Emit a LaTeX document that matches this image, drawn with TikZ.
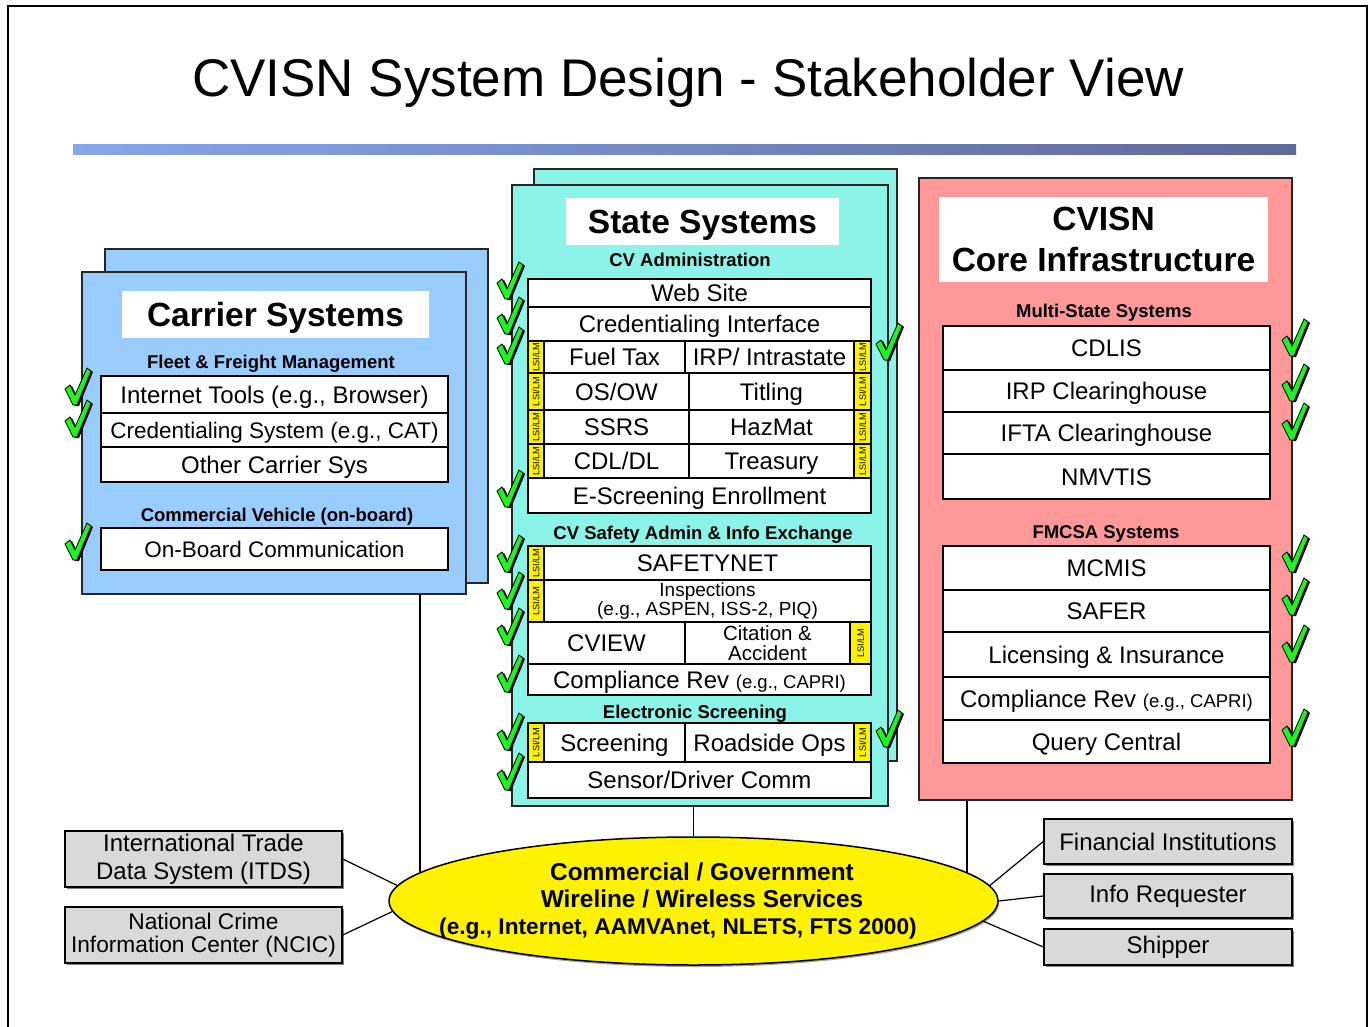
\documentclass[tikz,border=0pt]{standalone}
\usepackage{fontspec}
\setmainfont{Liberation Sans}
\usetikzlibrary{shapes.geometric,shadows}

\definecolor{carrierblue}{RGB}{153,204,255}
\definecolor{stateaqua}{RGB}{140,243,232}
\definecolor{corepink}{RGB}{255,153,153}
\definecolor{extgray}{RGB}{217,217,217}
\definecolor{ckgreen}{RGB}{30,245,30}
\definecolor{barleft}{RGB}{135,165,235}
\definecolor{barright}{RGB}{95,105,150}

\begin{document}
\begin{tikzpicture}[x=1pt,y=-1pt,
  panel/.style={draw=black!85, line width=1.5, inner sep=0},
  ttlbox/.style={fill=white, inner sep=0, align=center, font=\bfseries\fontsize{33.5}{41}\selectfont},
  subhead/.style={text height=13.5pt, text depth=0pt, font=\bfseries\fontsize{18.5}{20}\selectfont},
  sysbox/.style={draw, fill=white, line width=1.5, inner sep=0, text height=17pt, text depth=0pt, font=\fontsize{24}{26}\selectfont},
  sysbox2/.style={draw, fill=white, line width=1.5, inner sep=0, align=center},
  lsi/.style={draw, fill=yellow, line width=1.2, inner sep=0, font=\fontsize{9.2}{10}\selectfont},
  extbox/.style={draw, fill=extgray, line width=1.5, inner sep=0, align=center, drop shadow={shadow xshift=1.5pt, shadow yshift=-1.5pt, fill=black!70, opacity=.7}},
  link/.style={line width=1.2},
  chk/.pic={
    \fill[black] (2,22) -- (7,18) -- (12,28) -- (24,1) -- (28,4) -- (14,38) -- (10,38) -- cycle;
    \filldraw[fill=ckgreen, draw=black, line width=.8] (0,21) -- (5,17) -- (10,27) -- (22,0) -- (26,3) -- (12,37) -- (8,37) -- cycle;
  }]
\useasboundingbox (0,0) rectangle (1370,1027);
% Cadre et titre
\draw[line width=1.5] (8,1027) -- (8,6) -- (1367,6) -- (1367,1027);
\node[anchor=base, font=\fontsize{53}{60}\selectfont] (title) at (688,97) {CVISN System Design - Stakeholder View};
\shade[left color=barleft, right color=barright] (73,145) rectangle (1296,155);

% Carrier Systems
\node[panel, fill=carrierblue, minimum width=383, minimum height=334] (carrierback) at (296.5,416) {};
\node[panel, fill=carrierblue, minimum width=384, minimum height=322] (carrier) at (274,433) {};
\node[ttlbox, text depth=0pt, minimum width=307, minimum height=47] (carrierttl) at (275.5,314.5) {Carrier Systems};
\node[subhead] (fleet) at (271,362) {Fleet \& Freight Management};
\node[sysbox, minimum width=347, minimum height=37] (inet) at (274.5,394.5) {Internet Tools (e.g., Browser)};
\node[sysbox, minimum width=347, minimum height=34, font=\fontsize{22.5}{24}\selectfont, text height=16pt] (credsys) at (274.5,430) {Credentialing System (e.g., CAT)};
\node[sysbox, minimum width=347, minimum height=35] (other) at (274.5,464.5) {Other Carrier Sys};
\node[subhead] (cveh) at (277,515) {Commercial Vehicle (on-board)};
\node[sysbox, minimum width=347, minimum height=42, font=\fontsize{22.5}{24}\selectfont, text height=16pt] (onboard) at (274.5,549) {On-Board Communication};
\pic at (65,368) {chk};
\pic at (65,400) {chk};
\pic at (65,523) {chk};

% State Systems
\node[panel, fill=stateaqua, minimum width=363, minimum height=592] (stateback) at (715.5,465) {};
\node[panel, fill=stateaqua, minimum width=376, minimum height=621] (state) at (700,495.5) {};
\node[ttlbox, text depth=0pt, minimum width=273, minimum height=47] (statettl) at (702.5,221.5) {State Systems};
\node[subhead] (cvadmin) at (690,260) {CV Administration};
\node[sysbox, minimum width=343, minimum height=28] (web) at (699.5,293) {Web Site};
\node[sysbox, minimum width=343, minimum height=34] (credif) at (699.5,324) {Credentialing Interface};
\node[lsi, minimum width=16, minimum height=32] (fuellsi) at (536,357) {\rotatebox{90}{LSI/LM}};
\node[sysbox, minimum width=141, minimum height=32] (fuel) at (614.5,357) {Fuel Tax};
\node[sysbox, minimum width=169, minimum height=32] (irp) at (769.5,357) {IRP/ Intrastate};
\node[lsi, minimum width=17, minimum height=32] (irplsi) at (862.5,357) {\rotatebox{90}{LSI/LM}};
\node[lsi, minimum width=16, minimum height=37] (osowlsi) at (536,391.5) {\rotatebox{90}{LSI/LM}};
\node[sysbox, minimum width=145, minimum height=37] (osow) at (616.5,391.5) {OS/OW};
\node[sysbox, minimum width=165, minimum height=37] (titling) at (771.5,391.5) {Titling};
\node[lsi, minimum width=17, minimum height=37] (titlsi) at (862.5,391.5) {\rotatebox{90}{LSI/LM}};
\node[lsi, minimum width=16, minimum height=34] (ssrslsi) at (536,427) {\rotatebox{90}{LSI/LM}};
\node[sysbox, minimum width=145, minimum height=34] (ssrs) at (616.5,427) {SSRS};
\node[sysbox, minimum width=165, minimum height=34] (hazmat) at (771.5,427) {HazMat};
\node[lsi, minimum width=17, minimum height=34] (hazlsi) at (862.5,427) {\rotatebox{90}{LSI/LM}};
\node[lsi, minimum width=16, minimum height=34] (cdllsi) at (536,461) {\rotatebox{90}{LSI/LM}};
\node[sysbox, minimum width=145, minimum height=34] (cdl) at (616.5,461) {CDL/DL};
\node[sysbox, minimum width=165, minimum height=34] (treasury) at (771.5,461) {Treasury};
\node[lsi, minimum width=17, minimum height=34] (trelsi) at (862.5,461) {\rotatebox{90}{LSI/LM}};
\node[sysbox, minimum width=343, minimum height=35] (escreen) at (699.5,495.5) {E-Screening Enrollment};
\node[subhead] (cvsafety) at (703,533) {CV Safety Admin \& Info Exchange};
\node[lsi, minimum width=16, minimum height=34] (safelsi) at (536,563) {\rotatebox{90}{LSI/LM}};
\node[sysbox, minimum width=327, minimum height=34] (safetynet) at (707.5,563) {SAFETYNET};
\node[lsi, minimum width=16, minimum height=42] (insplsi) at (536,601) {\rotatebox{90}{LSI/LM}};
\node[sysbox2, minimum width=327, minimum height=42, font=\fontsize{19}{17.5}\selectfont] (insp) at (707.5,601) {Inspections\\(e.g., ASPEN, ISS-2, PIQ)};
\node[sysbox, minimum width=157, minimum height=42] (cview) at (606.5,643) {CVIEW};
\node[sysbox2, minimum width=165, minimum height=42, font=\fontsize{20.5}{20}\selectfont] (citation) at (767.5,643) {Citation \&\\Accident};
\node[lsi, minimum width=21, minimum height=42] (citlsi) at (860.5,643) {\rotatebox{90}{LSI/LM}};
\node[sysbox, minimum width=343, minimum height=31] (statecr) at (699.5,679.5) {Compliance Rev {\fontsize{18.5}{20}\selectfont(e.g., CAPRI)}};
\node[subhead] (escr) at (695,712) {Electronic Screening};
\node[lsi, minimum width=16, minimum height=39] (scrlsi) at (536,742.5) {\rotatebox{90}{LSI/LM}};
\node[sysbox, minimum width=141, minimum height=39] (screening) at (614.5,742.5) {Screening};
\node[sysbox, minimum width=169, minimum height=39] (roadside) at (769.5,742.5) {Roadside Ops};
\node[lsi, minimum width=17, minimum height=39] (roadlsi) at (862.5,742.5) {\rotatebox{90}{LSI/LM}};
\node[sysbox, minimum width=343, minimum height=36] (sensor) at (699.5,780) {Sensor/Driver Comm};
\pic at (497,262) {chk};
\pic at (497,297) {chk};
\pic at (497,327) {chk};
\pic at (497,470) {chk};
\pic at (497,535) {chk};
\pic at (497,572) {chk};
\pic at (497,608) {chk};
\pic at (497,655) {chk};
\pic at (497,713) {chk};
\pic at (497,753) {chk};
\pic at (876,323) {chk};
\pic at (876,710) {chk};

% CVISN Core Infrastructure
\node[panel, fill=corepink, minimum width=373, minimum height=622] (core) at (1105.5,489) {};
\node[ttlbox, minimum width=329, minimum height=85] (corettl) at (1103.5,239.5) {CVISN\\Core Infrastructure};
\node[subhead] (multi) at (1104,311) {Multi-State Systems};
\node[sysbox, minimum width=327, minimum height=44] (cdlis) at (1106.5,348) {CDLIS};
\node[sysbox, minimum width=327, minimum height=42] (irpch) at (1106.5,391) {IRP Clearinghouse};
\node[sysbox, minimum width=327, minimum height=42] (iftach) at (1106.5,433) {IFTA Clearinghouse};
\node[sysbox, minimum width=327, minimum height=45] (nmvtis) at (1106.5,476.5) {NMVTIS};
\node[subhead] (fmcsa) at (1106,532) {FMCSA Systems};
\node[sysbox, minimum width=327, minimum height=44] (mcmis) at (1106.5,568) {MCMIS};
\node[sysbox, minimum width=327, minimum height=42] (safer) at (1106.5,611) {SAFER};
\node[sysbox, minimum width=327, minimum height=45] (licins) at (1106.5,654.5) {Licensing \& Insurance};
\node[sysbox, minimum width=327, minimum height=43] (corecr) at (1106.5,698.5) {Compliance Rev {\fontsize{18.5}{20}\selectfont(e.g., CAPRI)}};
\node[sysbox, minimum width=327, minimum height=43] (query) at (1106.5,741.5) {Query Central};
\pic at (1282,319) {chk};
\pic at (1282,364) {chk};
\pic at (1282,403) {chk};
\pic at (1282,535) {chk};
\pic at (1282,578) {chk};
\pic at (1282,625) {chk};
\pic at (1282,709) {chk};

% Reseau
\node[ellipse, draw, fill=yellow, line width=1.5, minimum width=609, minimum height=128, inner sep=0, drop shadow={shadow xshift=1pt, shadow yshift=-2pt, fill=black!60, opacity=.6}] (cloud) at (693.5,901) {};
\node[align=center, font=\bfseries\fontsize{24.4}{27}\selectfont] (cloudtxt) at ([xshift=8.5]cloud.center) {Commercial / Government\\Wireline / Wireless Services\\{\fontsize{22.7}{27}\selectfont(e.g., Internet, AAMVAnet, NLETS, FTS 2000)}\hspace*{48pt}};
\node[extbox, minimum width=277, minimum height=56, font=\fontsize{24}{28}\selectfont] (itds) at (203.5,859) {International Trade\\Data System (ITDS)};
\node[extbox, minimum width=277, minimum height=56, font=\fontsize{22.7}{23}\selectfont] (ncic) at (203.5,935) {National Crime\\Information Center (NCIC)};
\node[extbox, minimum width=248, minimum height=45, font=\fontsize{24}{26}\selectfont] (fin) at (1168,841.5) {Financial Institutions};
\node[extbox, minimum width=248, minimum height=44, font=\fontsize{24}{26}\selectfont] (info) at (1168,896) {Info Requester};
\node[extbox, minimum width=248, minimum height=36, font=\fontsize{24}{26}\selectfont] (ship) at (1168,947) {Shipper};

% Liaisons
\draw[link] (cloud.174) -- (cloud.174 |- carrier.south);
\draw[link] (cloud.north) -- (cloud.north |- state.south);
\draw[link] (cloud.6) -- (cloud.6 |- core.south);
\draw[link] (itds.east) -- (cloud.177);
\draw[link] (ncic.east) -- (cloud.182);
\draw[link] (fin.west) -- (cloud.3);
\draw[link] (info.west) -- (cloud.0);
\draw[link] (ship.west) -- (cloud.356);
\end{tikzpicture}
\end{document}
